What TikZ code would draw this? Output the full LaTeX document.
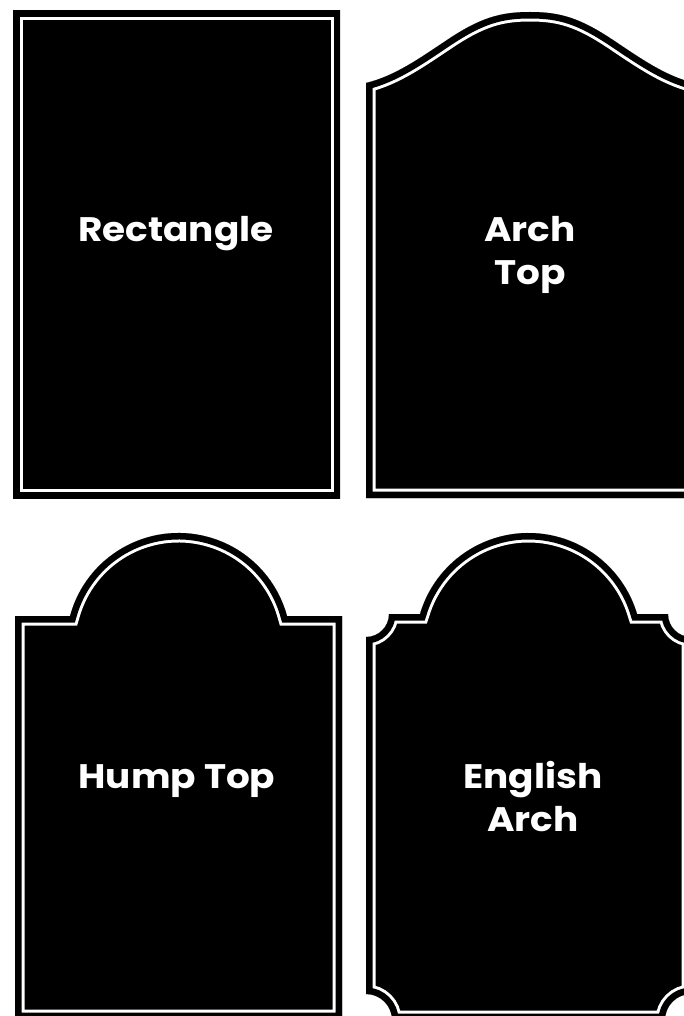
\documentclass[tikz,border=0pt]{standalone}
\usepackage{fontspec}
\setmainfont{Poppins}[FakeStretch=1.1]
\begin{document}
\begin{tikzpicture}[x=1pt,y=-1pt,
  lbl/.style={text=white,font=\fontsize{34}{43}\selectfont\bfseries,align=center,inner sep=0pt},
  rectpath/.style={insert path={(13,11) rectangle (340,498)}},
  archpath/.style={insert path={(366,498) -- (366,83) .. controls (395,76) and (420,58) .. (447,40) .. controls (480,18) and (500,12) .. (530,12) .. controls (560,12) and (580,18) .. (613,40) .. controls (640,58) and (665,76) .. (694,83) -- (694,498) -- cycle}},
  humppath/.style={insert path={(15,1019) -- (15,616) -- (70.03,616) arc[start angle=195.16,end angle=344.84,radius=112.4] -- (342,616) -- (342,1019) -- cycle}},
  engpath/.style={insert path={(366,994) -- (366,637) arc[start angle=90,end angle=0,radius=23] -- (420,614) arc[start angle=196.53,end angle=343.47,radius=113.2] -- (668,614) arc[start angle=180,end angle=90,radius=23] -- (691,994) arc[start angle=270,end angle=180,radius=26] -- (392,1020) arc[start angle=0,end angle=-90,radius=26] -- cycle}},
  whiteband/.style={draw=white,line width=19pt,line join=miter},
  blackband/.style={draw=black,line width=13pt,line join=miter},
]
\useasboundingbox (0,0) rectangle (684,1016);
\fill[white] (0,0) rectangle (684,1016);
\clip (0,0) rectangle (684,1016);
% shapes
\foreach \p in {rectpath,archpath,humppath,engpath}{
  \fill[black,\p];
  \begin{scope}
    \clip[\p];
    \path[whiteband,\p];
    \path[blackband,\p];
  \end{scope}
}
\node[lbl] (rect) at (176,234) {Rectangle};
\node[lbl] (arch) at (530,255) {Arch\\Top};
\node[lbl] (hump) at (177,781) {Hump Top};
\node[lbl] (eng) at (533,797) {English\\Arch};
\end{tikzpicture}
\end{document}
